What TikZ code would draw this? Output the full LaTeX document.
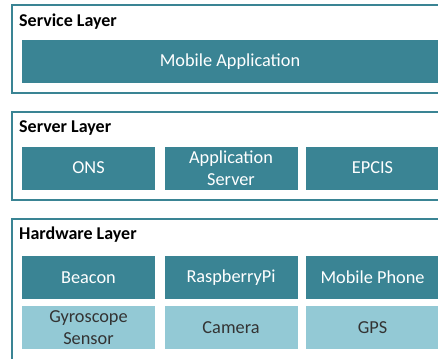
\documentclass[tikz,border=0pt]{standalone}
\usepackage{fontspec}
\setmainfont{Carlito}
\definecolor{tealdark}{RGB}{58,132,148}
\definecolor{teallight}{RGB}{147,201,213}
\begin{document}
\begin{tikzpicture}[x=1pt,y=-1pt,
  layerframe/.style={draw=tealdark, line width=2pt},
  layertitle/.style={anchor=base west, inner sep=0pt, text=black,
    font=\fontsize{18}{21}\selectfont\bfseries},
  blk/.style={fill=tealdark, text=white, inner sep=0pt, align=center,
    minimum width=133pt, minimum height=43pt,
    font=\fontsize{18.3}{21.5}\selectfont},
  liteblk/.style={blk, fill=teallight, text=black!80}]
\useasboundingbox (0,0) rectangle (438,358);
\clip (0,0) rectangle (438,358);

% service layer
\draw[layerframe] (12,5) rectangle (460,93);
\node[layertitle] (svct) at (19,26.5) {Service Layer};
\node[blk, minimum width=416pt] (mobapp) at (230,61.5) {Mobile Application};

% server layer
\draw[layerframe] (12,112) rectangle (460,200);
\node[layertitle] (srvt) at (19,133) {Server Layer};
\node[blk] (ons)  at (88.5,168) {ONS};
\node[blk] (apps) at (231,168) {Application\\Server};
\node[blk] (epc)  at (372.5,168) {EPCIS};

% hardware layer
\draw[layerframe] (12,219) rectangle (460,380);
\node[layertitle] (hwt) at (19,239.5) {Hardware Layer};
\node[blk] (beacon) at (88.5,277.5) {Beacon};
\node[blk] (rpi)    at (231,277.5) {RaspberryPi};
\node[blk] (phone)  at (372.5,277.5) {Mobile Phone};
\node[liteblk] (gyro) at (88.5,327.5) {Gyroscope\\Sensor};
\node[liteblk] (cam)  at (231,327.5) {Camera};
\node[liteblk] (gps)  at (372.5,327.5) {GPS};
\end{tikzpicture}
\end{document}
